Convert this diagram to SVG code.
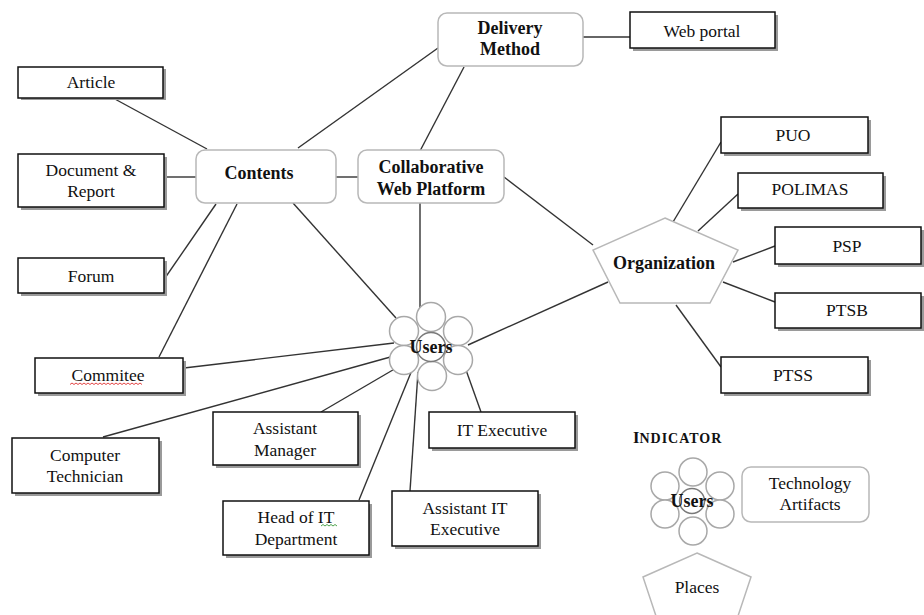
<svg xmlns="http://www.w3.org/2000/svg" width="924" height="615" viewBox="0 0 924 615">
<style>
  .box{fill:#fff;stroke:#111;stroke-width:1.5}
  .sh{fill:#9a9a9a}
  .rnd{fill:#fff;stroke:#b8b8b8;stroke-width:1.5}
  .pent{fill:#fff;stroke:#b8b8b8;stroke-width:1.5}
  .c{fill:#fff;stroke:#a8a8a8;stroke-width:1.5}
  .cc{fill:#fff;stroke:#7a7a7a;stroke-width:1.5}
  .ln{stroke:#333;stroke-width:1.4;fill:none}
  text{font-family:"Liberation Serif","DejaVu Serif",serif;fill:#111;text-anchor:middle;font-size:17.5px;font-weight:normal}
  text.b{font-weight:bold;font-size:18px}
</style>
<rect width="924" height="615" fill="#fff"/>

<g id="connectors">
  <line class="ln" x1="113" y1="98" x2="207" y2="149"/>
  <line class="ln" x1="164" y1="177" x2="196" y2="177"/>
  <line class="ln" x1="165" y1="278" x2="216" y2="204"/>
  <line class="ln" x1="159" y1="357" x2="237" y2="204"/>
  <line class="ln" x1="293" y1="203" x2="396" y2="318"/>
  <line class="ln" x1="298" y1="148" x2="438" y2="48"/>
  <line class="ln" x1="464" y1="67" x2="420" y2="151"/>
  <line class="ln" x1="583" y1="37" x2="630" y2="37"/>
  <line class="ln" x1="336" y1="177" x2="358" y2="177"/>
  <line class="ln" x1="420" y1="203" x2="420" y2="310"/>
  <line class="ln" x1="504" y1="177" x2="593" y2="245"/>
  <line class="ln" x1="468" y1="345" x2="608" y2="282"/>
  <line class="ln" x1="673" y1="222" x2="721" y2="142"/>
  <line class="ln" x1="698" y1="231" x2="738" y2="194"/>
  <line class="ln" x1="733" y1="262" x2="775" y2="246"/>
  <line class="ln" x1="723" y1="282" x2="775" y2="302"/>
  <line class="ln" x1="676" y1="305" x2="721" y2="367"/>
  <line class="ln" x1="184" y1="368" x2="394" y2="343"/>
  <line class="ln" x1="103" y1="437" x2="394" y2="356"/>
  <line class="ln" x1="321" y1="412" x2="398" y2="367"/>
  <line class="ln" x1="359" y1="500" x2="412" y2="370"/>
  <line class="ln" x1="410" y1="491" x2="418" y2="372"/>
  <line class="ln" x1="481" y1="412" x2="466" y2="370"/>
</g>

<g id="article"><rect class="sh" x="21" y="69" width="145" height="31"/><rect class="box" x="18" y="67" width="145" height="31"/><text x="91" y="88">Article</text></g>
<g id="document-report"><rect class="sh" x="21" y="157" width="146" height="53"/><rect class="box" x="18" y="154" width="146" height="53"/><text x="91" y="176">Document &amp;</text><text x="91" y="197">Report</text></g>
<g id="forum"><rect class="sh" x="21" y="261" width="146" height="35"/><rect class="box" x="18" y="258" width="146" height="35"/><text x="91" y="282">Forum</text></g>

<g id="contents"><rect class="rnd" x="196" y="150" width="140" height="53" rx="9"/><text class="b" x="259" y="179">Contents</text></g>
<g id="collaborative-web-platform"><rect class="rnd" x="358" y="150" width="146" height="53" rx="9"/><text class="b" x="431" y="173">Collaborative</text><text class="b" x="431" y="195">Web Platform</text></g>
<g id="delivery-method"><rect class="rnd" x="438" y="13" width="145" height="53" rx="9"/><text class="b" x="510" y="34">Delivery</text><text class="b" x="510" y="55">Method</text></g>
<g id="web-portal"><rect class="sh" x="633" y="15" width="145" height="36"/><rect class="box" x="630" y="12" width="145" height="36"/><text x="702" y="37">Web portal</text></g>

<g id="organization"><polygon class="pent" points="665,218 738,250 710,303 620,303 593,250"/><text class="b" x="664" y="269">Organization</text></g>
<g id="puo"><rect class="sh" x="724" y="120" width="147" height="36"/><rect class="box" x="721" y="117" width="147" height="36"/><text x="793" y="141">PUO</text></g>
<g id="polimas"><rect class="sh" x="741" y="176" width="145" height="35"/><rect class="box" x="738" y="173" width="145" height="35"/><text x="810" y="195">POLIMAS</text></g>
<g id="psp"><rect class="sh" x="778" y="230" width="146" height="37"/><rect class="box" x="775" y="227" width="146" height="37"/><text x="847" y="252">PSP</text></g>
<g id="ptsb"><rect class="sh" x="778" y="296" width="146" height="35"/><rect class="box" x="775" y="293" width="146" height="35"/><text x="847" y="316">PTSB</text></g>
<g id="ptss"><rect class="sh" x="724" y="360" width="147" height="36"/><rect class="box" x="721" y="357" width="147" height="36"/><text x="793" y="381">PTSS</text></g>

<g id="users">
  <circle class="c" cx="431" cy="317" r="14.5"/>
  <circle class="c" cx="404" cy="331" r="14.5"/>
  <circle class="c" cx="458" cy="331" r="14.5"/>
  <circle class="c" cx="404" cy="360" r="14.5"/>
  <circle class="c" cx="458" cy="360" r="14.5"/>
  <circle class="c" cx="432" cy="376" r="14.5"/>
  <circle class="cc" cx="431" cy="347" r="14.5"/>
  <text class="b" x="431" y="353">Users</text>
</g>

<g id="commitee"><rect class="sh" x="38" y="361" width="148" height="35"/><rect class="box" x="35" y="358" width="148" height="35"/><text x="108" y="381">Commitee</text><path d="M70,384.5 l2,-1.5 l2,1.5 l2,-1.5 l2,1.5 l2,-1.5 l2,1.5 l2,-1.5 l2,1.5 l2,-1.5 l2,1.5 l2,-1.5 l2,1.5 l2,-1.5 l2,1.5 l2,-1.5 l2,1.5 l2,-1.5 l2,1.5 l2,-1.5 l2,1.5 l2,-1.5 l2,1.5 l2,-1.5 l2,1.5 l2,-1.5 l2,1.5 l2,-1.5 l2,1.5 l2,-1.5 l2,1.5 l2,-1.5 l2,1.5 l2,-1.5 l2,1.5 l2,-1.5 l2,1.5" fill="none" stroke="#e03030" stroke-width="0.9"/></g>
<g id="computer-technician"><rect class="sh" x="15" y="441" width="147" height="55"/><rect class="box" x="12" y="438" width="147" height="55"/><text x="85" y="461">Computer</text><text x="85" y="482">Technician</text></g>
<g id="assistant-manager"><rect class="sh" x="216" y="415" width="145" height="53"/><rect class="box" x="213" y="412" width="145" height="53"/><text x="285" y="434">Assistant</text><text x="285" y="456">Manager</text></g>
<g id="head-of-it-department"><rect class="sh" x="226" y="504" width="146" height="54"/><rect class="box" x="223" y="501" width="146" height="54"/><text x="296" y="523">Head of IT</text><text x="296" y="545">Department</text><path d="M321,526 l2,-1.5 l2,1.5 l2,-1.5 l2,1.5 l2,-1.5 l2,1.5 l2,-1.5 l2,1.5" fill="none" stroke="#3a9a3a" stroke-width="0.9"/></g>
<g id="it-executive"><rect class="sh" x="432" y="415" width="146" height="36"/><rect class="box" x="429" y="412" width="146" height="36"/><text x="502" y="436">IT Executive</text></g>
<g id="assistant-it-executive"><rect class="sh" x="395" y="494" width="146" height="55"/><rect class="box" x="392" y="491" width="146" height="55"/><text x="465" y="514">Assistant IT</text><text x="465" y="535">Executive</text></g>

<g id="indicator">
  <text x="633" y="443" style="text-anchor:start;font-weight:bold;font-size:16.5px">I<tspan style="font-size:14px;letter-spacing:1px">NDICATOR</tspan></text>
</g>
<g id="legend-users">
  <circle class="c" cx="693" cy="472" r="14"/>
  <circle class="c" cx="665" cy="486" r="14"/>
  <circle class="c" cx="720" cy="486" r="14"/>
  <circle class="c" cx="665" cy="514" r="14"/>
  <circle class="c" cx="720" cy="514" r="14"/>
  <circle class="c" cx="693" cy="531" r="14"/>
  <circle class="cc" cx="692" cy="501" r="12.5"/>
  <text class="b" x="692" y="507">Users</text>
</g>
<g id="legend-technology-artifacts"><rect class="rnd" x="742" y="467" width="127" height="55" rx="9"/><text x="810" y="489">Technology</text><text x="810" y="510">Artifacts</text></g>
<g id="legend-places"><polygon class="pent" points="697,553 751,577 735,625 659,625 643,577"/><text x="697" y="593">Places</text></g>
</svg>
